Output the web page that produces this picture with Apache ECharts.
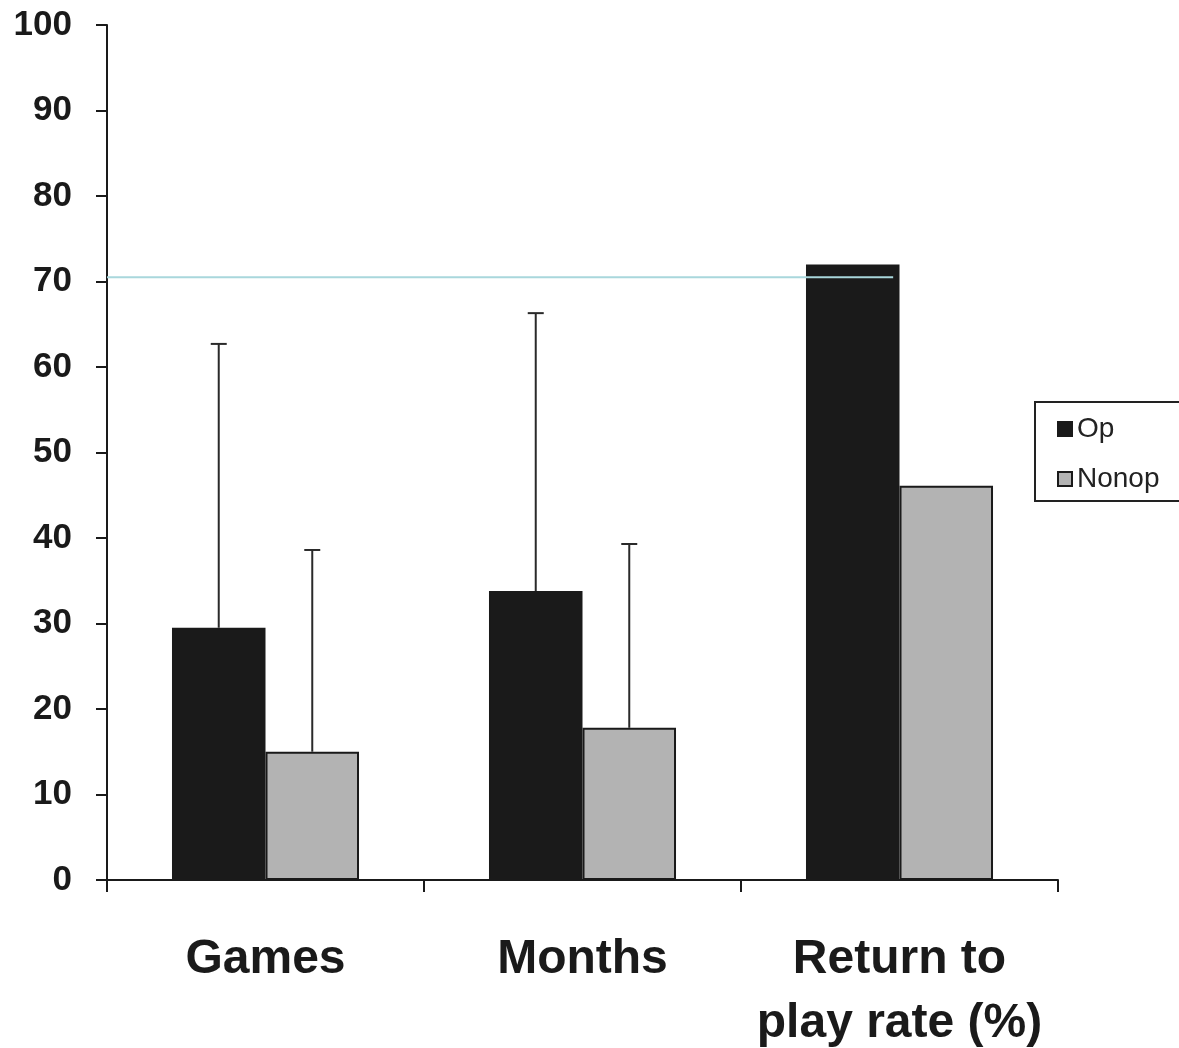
<!DOCTYPE html>
<html>
<head>
<meta charset="utf-8">
<script src="https://cdn.jsdelivr.net/npm/echarts@6/dist/echarts.min.js"></script>
<style>
html,body{margin:0;padding:0;background:#fff;}
#chart{width:1179px;height:1048px;}
</style>
</head>
<body>
<div id="chart"></div>
<script>
var categories = ['Games', 'Months', 'Return to\nplay rate (%)'];
var seriesNames = ['Op', 'Nonop'];
var opValues = [29.5, 33.8, 72.0];
var nonopValues = [15.0, 17.8, 46.1];
var opErrorTop = [62.7, 66.3, null];
var nonopErrorTop = [38.6, 39.3, null];
var yTicks = [0, 10, 20, 30, 40, 50, 60, 70, 80, 90, 100];
var refLineValue = 70.5;
var refLineExtent = [0, 2.48];

var BAR_GAP_PCT = 0.41;

function errorData(vals, tops) {
  var out = [];
  for (var i = 0; i < vals.length; i++) {
    if (tops[i] != null) out.push([i, vals[i], tops[i]]);
  }
  return out;
}

function makeErrorRender(sideSign) {
  return function (params, api) {
    var idx = api.value(0);
    var low = api.coord([idx, api.value(1)]);
    var high = api.coord([idx, api.value(2)]);
    var catW = api.size([1, 0])[0];
    var bw = catW * (1 - BAR_GAP_PCT) / 2;
    var x = low[0] + sideSign * bw / 2;
    var cap = 8;
    var style = { stroke: '#2a2a2a', lineWidth: 2 };
    return {
      type: 'group',
      children: [
        { type: 'line', shape: { x1: x, y1: low[1], x2: x, y2: high[1] }, style: style },
        { type: 'line', shape: { x1: x - cap, y1: high[1], x2: x + cap, y2: high[1] }, style: style }
      ]
    };
  };
}

var chart = echarts.init(document.getElementById('chart'), null, { renderer: 'canvas' });

var option = {
  animation: false,
  backgroundColor: '#ffffff',
  grid: { left: 107, right: 121, top: 25, bottom: 168, containLabel: false, outerBoundsMode: 'none' },
  legend: {
    data: seriesNames,
    orient: 'vertical',
    left: 1035,
    top: 402,
    padding: [13, 40, 8, 22],
    itemGap: 22,
    itemWidth: 14,
    itemHeight: 14,
    icon: 'rect',
    borderColor: '#222',
    borderWidth: 2,
    textStyle: { fontFamily: 'Liberation Sans', fontSize: 28, color: '#222', lineHeight: 24 }
  },
  xAxis: [{
    type: 'category',
    data: categories,
    boundaryGap: true,
    axisLine: { show: true, lineStyle: { color: '#1a1a1a', width: 2 } },
    axisTick: { show: true, inside: false, length: 12, alignWithLabel: false, lineStyle: { color: '#1a1a1a', width: 2 } },
    axisLabel: {
      margin: 48,
      fontFamily: 'Liberation Sans',
      fontWeight: 'bold',
      fontSize: 48,
      lineHeight: 64,
      color: '#1a1a1a',
      interval: 0
    },
    splitLine: { show: false }
  }, {
    type: 'value',
    min: 0,
    max: 3,
    show: false
  }],
  yAxis: {
    type: 'value',
    min: 0,
    max: 100,
    interval: 10,
    axisLine: { show: true, lineStyle: { color: '#1a1a1a', width: 2 } },
    axisTick: { show: true, inside: false, length: 11, lineStyle: { color: '#1a1a1a', width: 2 } },
    axisLabel: {
      margin: 35,
      fontFamily: 'Liberation Sans',
      fontWeight: 'bold',
      fontSize: 35,
      color: '#1a1a1a',
      formatter: function (v) { return yTicks.indexOf(v) >= 0 ? String(v) : ''; }
    },
    splitLine: { show: false }
  },
  series: [
    {
      name: 'Op',
      type: 'bar',
      data: opValues,
      barGap: '0%',
      barCategoryGap: '41%',
      itemStyle: { color: '#1a1a1a', borderColor: '#1a1a1a', borderWidth: 2 },
      z: 2
    },
    {
      name: 'Nonop',
      type: 'bar',
      data: nonopValues,
      barGap: '0%',
      barCategoryGap: '41%',
      itemStyle: { color: '#b3b3b3', borderColor: '#1a1a1a', borderWidth: 2 },
      z: 2
    },
    {
      name: 'opErr',
      type: 'custom',
      data: errorData(opValues, opErrorTop),
      renderItem: makeErrorRender(-1),
      z: 3,
      silent: true
    },
    {
      name: 'nonopErr',
      type: 'custom',
      data: errorData(nonopValues, nonopErrorTop),
      renderItem: makeErrorRender(1),
      z: 3,
      silent: true
    },
    {
      name: 'ref',
      type: 'line',
      xAxisIndex: 1,
      data: [[refLineExtent[0], refLineValue], [refLineExtent[1], refLineValue]],
      symbol: 'none',
      lineStyle: { color: '#a9d7dc', width: 2 },
      z: 4,
      silent: true
    }
  ]
};

chart.setOption(option);
</script>
</body>
</html>
